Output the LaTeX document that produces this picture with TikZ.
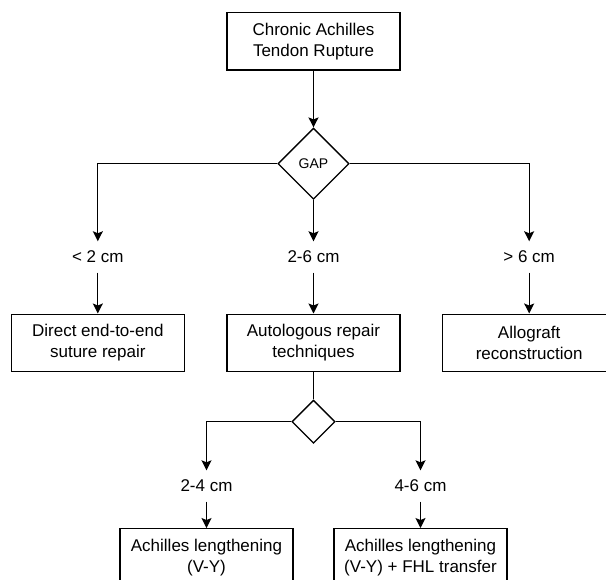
\documentclass[tikz,border=0pt]{standalone}
\usepackage{fontspec}
\setmainfont{Liberation Sans}
\usetikzlibrary{shapes.geometric,arrows.meta}
\begin{document}
\begin{tikzpicture}
        	\tikzstyle{box} = [draw, line width=1.3pt, minimum width=6.08cm, minimum height=2.02cm, inner sep=0pt, align=center, font=\fontsize{17pt}{20.7pt}\selectfont];
        	\tikzstyle{choice} = [draw, diamond, line width=1.3pt, minimum width=2.5cm, minimum height=2.5cm, inner sep=0pt, font=\fontsize{14pt}{16pt}\selectfont];
        	\tikzstyle{gaplabel} = [minimum height=31pt, inner sep=0pt, font=\fontsize{17pt}{20.7pt}\selectfont];
        	\tikzstyle{link} = [line width=1.3pt, -{Stealth[length=10pt, width=10pt, inset=2pt]}];
        	\clip (-313.5pt,41.3pt) rectangle (292.5pt,-538.7pt);

        	\node[box] (rupture) {Chronic Achilles\\Tendon Rupture};
        	\node[choice, below of=rupture, yshift=-3.3cm] (gap) {GAP};
        	\node[gaplabel, below of=gap, yshift=-2.28cm] (mid) {2-6 cm};
        	\node[gaplabel, left of=mid, xshift=-6.58cm] (short) {< 2 cm};
        	\node[gaplabel, right of=mid, xshift=6.58cm] (long) {> 6 cm};
        	\node[box, below of=short, yshift=-2.02cm] (direct) {Direct end-to-end\\suture repair};
        	\node[box, below of=mid, yshift=-2.02cm] (auto) {Autologous repair\\techniques};
        	\node[box, below of=long, yshift=-2.02cm] (allo) {Allograft\\reconstruction};
        	\node[choice, minimum width=1.52cm, minimum height=1.52cm, below of=auto, yshift=-1.77cm] (fork) {};
        	\node[gaplabel, below of=fork, yshift=-1.26cm, xshift=-3.76cm] (midlow) {2-4 cm};
        	\node[gaplabel, below of=fork, yshift=-1.26cm, xshift=3.76cm] (midhigh) {4-6 cm};
        	\node[box, below of=midlow, yshift=-1.51cm] (vy) {Achilles lengthening\\(V-Y)};
        	\node[box, below of=midhigh, yshift=-1.51cm] (vyfhl) {Achilles lengthening\\(V-Y) + FHL transfer};

            \draw[link] (rupture) -- (gap);
            \draw[link] (gap.west) -| (short.north);
            \draw[link] (gap) -- (mid);
            \draw[link] (gap.east) -| (long.north);
            \draw[link] (short) -- (direct);
            \draw[link] (mid) -- (auto);
            \draw[link] (long) -- (allo);
            \draw[line width=1.3pt] (auto) -- (fork);
            \draw[link] (fork.west) -| (midlow.north);
            \draw[link] (fork.east) -| (midhigh.north);
            \draw[link] (midlow) -- (vy);
            \draw[link] (midhigh) -- (vyfhl);
    	\end{tikzpicture}
\end{document}
